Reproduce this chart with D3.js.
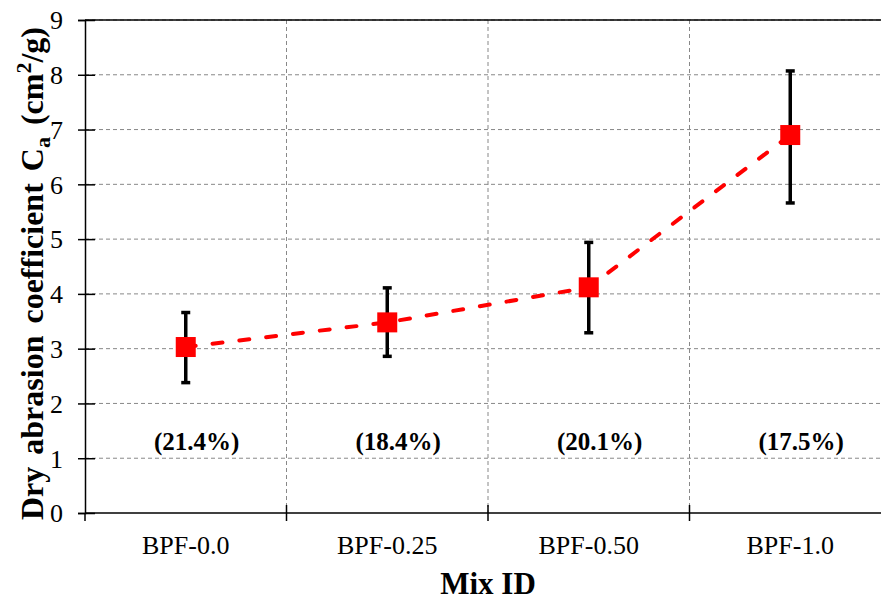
<!DOCTYPE html>
<html>
<head>
<meta charset="utf-8">
<script src="https://cdn.jsdelivr.net/npm/d3@7"></script>
<style>
  body { margin: 0; background: #fff; }
  svg, svg text { font-family: "Times New Roman", Times, "Liberation Serif", serif; }
  .grid line { stroke: #888; stroke-dasharray: 4,3; stroke-width: 1; }
</style>
</head>
<body>
<svg id="chart" width="881" height="601"></svg>
<script>
var mixIds = ['BPF-0.0', 'BPF-0.25', 'BPF-0.50', 'BPF-1.0'];
var abrasion = [3.03, 3.48, 4.12, 6.90];
var errUp = [0.63, 0.63, 0.82, 1.17];
var errDown = [0.65, 0.62, 0.83, 1.24];
var covLabels = ['(21.4%)', '(18.4%)', '(20.1%)', '(17.5%)'];
var yTicks = [0, 1, 2, 3, 4, 5, 6, 7, 8, 9];

var margin = {top: 20, right: -10, bottom: 88, left: 85},
    width = 881 - margin.left - margin.right,
    height = 601 - margin.top - margin.bottom;

var svg = d3.select('#chart')
    .append('g')
    .attr('transform', 'translate(' + margin.left + ',' + margin.top + ')');

var x = d3.scaleBand()
    .domain(mixIds)
    .range([0, width]);

var y = d3.scaleLinear()
    .domain([0, 9])
    .range([height, 0]);

var data = mixIds.map(function(id, i) {
    return {id: id, v: abrasion[i], hi: abrasion[i] + errUp[i], lo: abrasion[i] - errDown[i], lab: covLabels[i]};
});

function cx(d) { return x(d.id) + x.bandwidth() / 2; }

// horizontal grid
svg.append('g')
    .attr('class', 'grid')
    .selectAll('line')
    .data(yTicks.slice(1))
    .enter().append('line')
    .attr('x1', 0).attr('x2', width)
    .attr('y1', function(d) { return y(d); })
    .attr('y2', function(d) { return y(d); });

// vertical grid on category boundaries
svg.append('g')
    .attr('class', 'grid')
    .selectAll('line')
    .data(mixIds.slice(1))
    .enter().append('line')
    .attr('x1', function(d) { return x(d); })
    .attr('x2', function(d) { return x(d); })
    .attr('y1', 0).attr('y2', height);

// plot border (top)
svg.append('line')
    .attr('x1', 0).attr('x2', width)
    .attr('y1', 0).attr('y2', 0)
    .attr('stroke', '#000').attr('stroke-width', 1.5);

// y axis
var yAxis = d3.axisLeft(y).tickValues(yTicks).tickSize(7).tickPadding(15);
var gy = svg.append('g').call(yAxis).attr('font-family', null);
gy.select('.domain').attr('stroke-width', 1.5);
gy.selectAll('.tick line').attr('x2', 10).attr('x1', -7).attr('stroke-width', 1.5);
gy.selectAll('.tick text').attr('font-size', 26).attr('fill', '#000').attr('dy', '0.34em');

// x axis, ticks on band boundaries
var gx = svg.append('g').attr('transform', 'translate(0,' + height + ')');
gx.append('line')
    .attr('x1', 0).attr('x2', width)
    .attr('stroke', '#000').attr('stroke-width', 1.5);
gx.selectAll('.bt')
    .data(mixIds)
    .enter().append('line')
    .attr('x1', function(d) { return x(d); })
    .attr('x2', function(d) { return x(d); })
    .attr('y1', function(d, i) { return i === 0 ? 0 : -8; })
    .attr('y2', 8)
    .attr('stroke', '#000').attr('stroke-width', 1.5);
gx.selectAll('.xl')
    .data(mixIds)
    .enter().append('text')
    .attr('x', function(d) { return x(d) + x.bandwidth() / 2; })
    .attr('y', 41)
    .attr('text-anchor', 'middle')
    .attr('font-size', 26)
    .text(function(d) { return d; });

// axis titles
svg.append('text')
    .attr('x', width / 2)
    .attr('y', height + 81)
    .attr('text-anchor', 'middle')
    .attr('font-size', 31)
    .attr('font-weight', 'bold')
    .text('Mix ID');

var yt = svg.append('text')
    .attr('transform', 'translate(-42,' + (height / 2 + 7) + ') rotate(-90)')
    .attr('text-anchor', 'middle')
    .attr('font-size', 32)
    .attr('font-weight', 'bold')
    .attr('word-spacing', 4);
yt.append('tspan').text('Dry abrasion coefficient  C');
yt.append('tspan').attr('font-size', 22).attr('dy', 7).text('a');
yt.append('tspan').attr('dy', -7).text(' (cm');
yt.append('tspan').attr('font-size', 22).attr('dy', -12).text('2');
yt.append('tspan').attr('dy', 12).text('/g)');

// coefficient of variation labels
svg.selectAll('.cov')
    .data(data)
    .enter().append('text')
    .attr('x', function(d) { return cx(d) + 11; })
    .attr('y', y(1) - 8)
    .attr('text-anchor', 'middle')
    .attr('font-size', 25)
    .attr('font-weight', 'bold')
    .text(function(d) { return d.lab; });

// dashed trend line
var line = d3.line()
    .x(cx)
    .y(function(d) { return y(d.v); });

svg.append('path')
    .datum(data)
    .attr('d', line)
    .attr('fill', 'none')
    .attr('stroke', '#ff0000')
    .attr('stroke-width', 4)
    .attr('stroke-linecap', 'round')
    .attr('stroke-dasharray', '10,17');

// error bars
var eb = svg.selectAll('.err')
    .data(data)
    .enter().append('g');
eb.append('line')
    .attr('x1', cx).attr('x2', cx)
    .attr('y1', function(d) { return y(d.hi); })
    .attr('y2', function(d) { return y(d.lo); })
    .attr('stroke', '#000').attr('stroke-width', 3.5);
eb.append('line')
    .attr('x1', function(d) { return cx(d) - 4.5; })
    .attr('x2', function(d) { return cx(d) + 4.5; })
    .attr('y1', function(d) { return y(d.hi); })
    .attr('y2', function(d) { return y(d.hi); })
    .attr('stroke', '#000').attr('stroke-width', 3.5);
eb.append('line')
    .attr('x1', function(d) { return cx(d) - 4.5; })
    .attr('x2', function(d) { return cx(d) + 4.5; })
    .attr('y1', function(d) { return y(d.lo); })
    .attr('y2', function(d) { return y(d.lo); })
    .attr('stroke', '#000').attr('stroke-width', 3.5);

// markers
svg.selectAll('.pt')
    .data(data)
    .enter().append('rect')
    .attr('x', function(d) { return cx(d) - 10; })
    .attr('y', function(d) { return y(d.v) - 10; })
    .attr('width', 20).attr('height', 20)
    .attr('fill', '#ff0000');
</script>
</body>
</html>
